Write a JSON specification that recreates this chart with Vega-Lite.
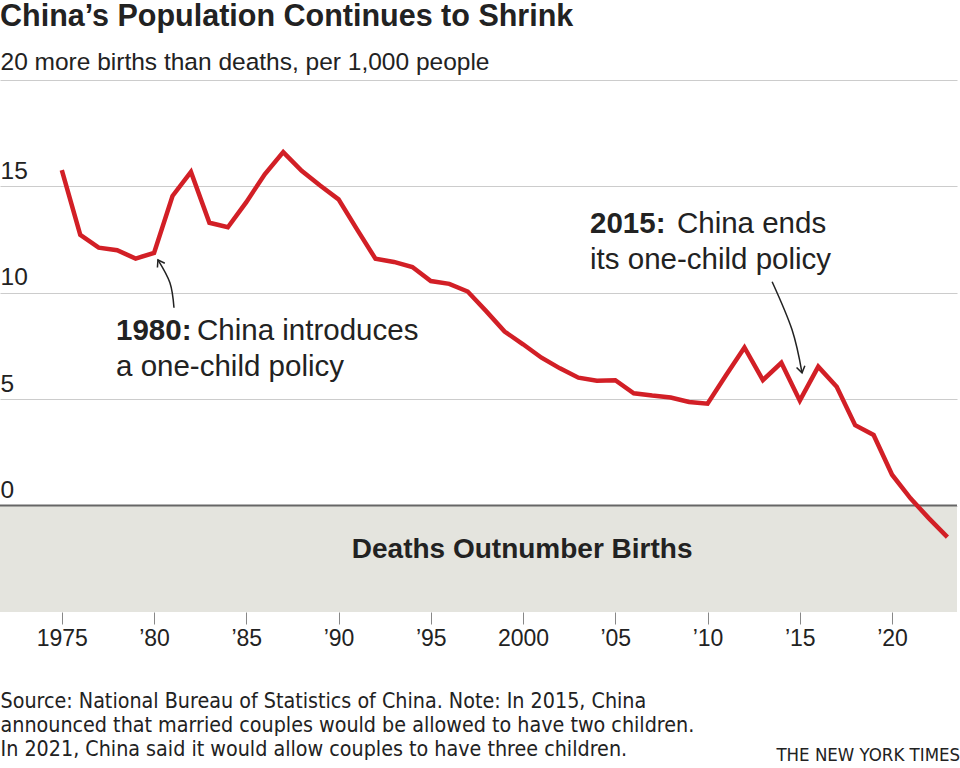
{
  "$schema": "https://vega.github.io/schema/vega-lite/v6.json",
  "width": 957,
  "height": 532,
  "autosize": {"type": "none"},
  "padding": {"left": 0, "top": 80, "right": 3, "bottom": 156},
  "background": "white",
  "title": {
    "text": "China’s Population Continues to Shrink",
    "anchor": "start",
    "frame": "group",
    "font": "Liberation Sans",
    "fontSize": 30.5,
    "fontWeight": "bold",
    "color": "#222222",
    "baseline": "alphabetic",
    "offset": -7
  },
  "config": {"view": {"stroke": null}, "font": "Liberation Sans"},
  "datasets": {
    "rates": [
      {"year": 1975, "rate": 15.77}, {"year": 1976, "rate": 12.72}, {"year": 1977, "rate": 12.12},
      {"year": 1978, "rate": 12.0}, {"year": 1979, "rate": 11.61}, {"year": 1980, "rate": 11.87},
      {"year": 1981, "rate": 14.55}, {"year": 1982, "rate": 15.68}, {"year": 1983, "rate": 13.29},
      {"year": 1984, "rate": 13.08}, {"year": 1985, "rate": 14.26}, {"year": 1986, "rate": 15.57},
      {"year": 1987, "rate": 16.61}, {"year": 1988, "rate": 15.73}, {"year": 1989, "rate": 15.04},
      {"year": 1990, "rate": 14.39}, {"year": 1991, "rate": 12.98}, {"year": 1992, "rate": 11.6},
      {"year": 1993, "rate": 11.45}, {"year": 1994, "rate": 11.21}, {"year": 1995, "rate": 10.55},
      {"year": 1996, "rate": 10.42}, {"year": 1997, "rate": 10.06}, {"year": 1998, "rate": 9.14},
      {"year": 1999, "rate": 8.18}, {"year": 2000, "rate": 7.58}, {"year": 2001, "rate": 6.95},
      {"year": 2002, "rate": 6.45}, {"year": 2003, "rate": 6.01}, {"year": 2004, "rate": 5.87},
      {"year": 2005, "rate": 5.89}, {"year": 2006, "rate": 5.28}, {"year": 2007, "rate": 5.17},
      {"year": 2008, "rate": 5.08}, {"year": 2009, "rate": 4.87}, {"year": 2010, "rate": 4.79},
      {"year": 2011, "rate": 6.13}, {"year": 2012, "rate": 7.43}, {"year": 2013, "rate": 5.9},
      {"year": 2014, "rate": 6.71}, {"year": 2015, "rate": 4.93}, {"year": 2016, "rate": 6.53},
      {"year": 2017, "rate": 5.58}, {"year": 2018, "rate": 3.78}, {"year": 2019, "rate": 3.32},
      {"year": 2020, "rate": 1.45}, {"year": 2021, "rate": 0.34}, {"year": 2022, "rate": -0.6},
      {"year": 2023, "rate": -1.48}
    ],
    "band": [{"top": 0, "bottom": -5}],
    "arrows": [
      {"id": "a1980", "ord": 0, "year": 1981.08, "rate": 9.3},
      {"id": "a1980", "ord": 1, "year": 1980.86, "rate": 10.47},
      {"id": "a1980", "ord": 2, "year": 1980.21, "rate": 11.55},
      {"id": "a2015", "ord": 0, "year": 2013.5, "rate": 10.52},
      {"id": "a2015", "ord": 1, "year": 2014.58, "rate": 8.26},
      {"id": "a2015", "ord": 2, "year": 2015.12, "rate": 6.24}
    ],
    "notesBold": [
      {"year": 1977.94, "rate": 7.79, "text": "1980:"},
      {"year": 2003.63, "rate": 12.82, "text": "2015:"}
    ],
    "notes": [
      {"year": 1982.33, "rate": 7.79, "text": "China introduces"},
      {"year": 1977.94, "rate": 6.1, "text": "a one-child policy"},
      {"year": 2008.34, "rate": 12.82, "text": "China ends"},
      {"year": 2003.63, "rate": 11.13, "text": "its one-child policy"}
    ],
    "bandLabel": [
      {"year": 1999.95, "rate": -2.44, "text": "Deaths Outnumber Births"}
    ]
  },
  "layer": [
    {
      "data": {"name": "band"},
      "mark": {"type": "rect", "color": "#e4e4de"},
      "encoding": {
        "y": {"field": "top", "type": "quantitative"},
        "y2": {"field": "bottom"}
      }
    },
    {
      "data": {"values": [{}]},
      "mark": {"type": "rule", "color": "#666666", "strokeWidth": 2},
      "encoding": {"y": {"datum": 0, "type": "quantitative"}}
    },
    {
      "data": {"name": "rates"},
      "mark": {"type": "line", "color": "#d21f26", "strokeWidth": 4.5, "strokeJoin": "miter", "strokeCap": "butt"},
      "encoding": {
        "x": {
          "field": "year",
          "type": "quantitative",
          "scale": {"domain": [1971.65, 2023.52], "nice": false, "zero": false},
          "axis": {
            "values": [1975, 1980, 1985, 1990, 1995, 2000, 2005, 2010, 2015, 2020],
            "format": "d",
            "labelExpr": "datum.value == 1975 || datum.value == 2000 ? datum.label : '’' + substring(datum.label, 2, 4)",
            "domain": false,
            "grid": false,
            "ticks": true,
            "tickSize": 12,
            "tickColor": "#888888",
            "tickWidth": 1,
            "labelFont": "Liberation Sans",
            "labelFontSize": 23,
            "labelColor": "#222222",
            "labelPadding": 3,
            "labelBaseline": "top",
            "labelFlush": false,
            "labelOverlap": false,
            "title": [
              "Source: National Bureau of Statistics of China.  Note: In 2015, China",
              "announced that married couples would be allowed to have two children.",
              "In 2021, China said it would allow couples to have three children."
            ],
            "titleAnchor": "start",
            "titleAlign": "left",
            "titleBaseline": "top",
            "titleFont": "DejaVu Sans Condensed, Liberation Sans",
            "titleFontSize": 21.3,
            "titleFontWeight": "normal",
            "titleColor": "#222222",
            "titleLineHeight": 24,
            "titlePadding": 40
          }
        },
        "y": {
          "field": "rate",
          "type": "quantitative",
          "scale": {"domain": [-5, 20], "nice": false, "zero": false},
          "axis": {
            "values": [0, 5, 10, 15, 20],
            "title": null,
            "domain": false,
            "ticks": false,
            "tickSize": 0,
            "grid": true,
            "gridColor": "#cccccc",
            "gridWidth": 1.2,
            "labelAlign": "left",
            "labelBaseline": "alphabetic",
            "labelPadding": 0,
            "labelOffset": {"condition": {"test": "datum.value == 20", "value": -11}, "value": -8},
            "labelFont": "Liberation Sans",
            "labelFontSize": 24.5,
            "labelColor": "#222222",
            "labelLimit": 2000,
            "labelOverlap": false,
            "labelFlush": false,
            "labelBound": false,
            "labelExpr": "datum.value == 20 ? '20 more births than deaths, per 1,000 people' : datum.label"
          }
        }
      }
    },
    {
      "data": {"name": "arrows"},
      "mark": {"type": "line", "color": "#222222", "strokeWidth": 1.5, "interpolate": "natural"},
      "encoding": {
        "x": {"field": "year", "type": "quantitative"},
        "y": {"field": "rate", "type": "quantitative"},
        "detail": {"field": "id"},
        "order": {"field": "ord"}
      }
    },
    {
      "data": {"name": "arrows"},
      "transform": [{"filter": "datum.id == 'a1980' && datum.ord == 2"}],
      "mark": {"type": "point", "shape": "M-0.6,0.9L0,0L0.6,0.9", "filled": false, "size": 200, "strokeWidth": 1.5, "color": "#222222", "opacity": 1, "angle": 330},
      "encoding": {
        "x": {"field": "year", "type": "quantitative"},
        "y": {"field": "rate", "type": "quantitative"}
      }
    },
    {
      "data": {"name": "arrows"},
      "transform": [{"filter": "datum.id == 'a2015' && datum.ord == 2"}],
      "mark": {"type": "point", "shape": "M-0.6,0.9L0,0L0.6,0.9", "filled": false, "size": 200, "strokeWidth": 1.5, "color": "#222222", "opacity": 1, "angle": 168},
      "encoding": {
        "x": {"field": "year", "type": "quantitative"},
        "y": {"field": "rate", "type": "quantitative"}
      }
    },
    {
      "data": {"name": "notesBold"},
      "mark": {"type": "text", "align": "left", "baseline": "alphabetic", "font": "Liberation Sans", "fontSize": 29.5, "fontWeight": "bold", "color": "#222222"},
      "encoding": {
        "x": {"field": "year", "type": "quantitative"},
        "y": {"field": "rate", "type": "quantitative"},
        "text": {"field": "text"}
      }
    },
    {
      "data": {"name": "notes"},
      "mark": {"type": "text", "align": "left", "baseline": "alphabetic", "font": "Liberation Sans", "fontSize": 29.5, "color": "#222222"},
      "encoding": {
        "x": {"field": "year", "type": "quantitative"},
        "y": {"field": "rate", "type": "quantitative"},
        "text": {"field": "text"}
      }
    },
    {
      "data": {"name": "bandLabel"},
      "mark": {"type": "text", "align": "center", "baseline": "alphabetic", "font": "Liberation Sans", "fontSize": 28, "fontWeight": "bold", "color": "#222222"},
      "encoding": {
        "x": {"field": "year", "type": "quantitative"},
        "y": {"field": "rate", "type": "quantitative"},
        "text": {"field": "text"}
      }
    },
    {
      "data": {"values": [{}]},
      "mark": {"type": "text", "align": "right", "baseline": "alphabetic", "font": "DejaVu Sans Condensed, Liberation Sans", "fontSize": 18.5, "color": "#222222", "text": "THE NEW YORK TIMES"},
      "encoding": {
        "x": {"datum": 2023.69, "type": "quantitative"},
        "y": {"datum": -12.0, "type": "quantitative"}
      }
    }
  ]
}
